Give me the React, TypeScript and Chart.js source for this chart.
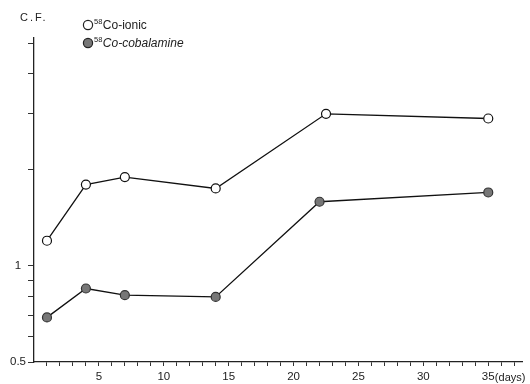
import React, { useEffect, useRef } from 'react';
import { Chart, registerables } from 'chart.js';

Chart.register(...registerables);

// Data
const ionicDays = [1, 4, 7, 14, 22.5, 35];
const ionicCF = [1.2, 1.8, 1.9, 1.75, 3.0, 2.9];
const cobalDays = [1, 4, 7, 14, 22, 35];
const cobalCF = [0.69, 0.85, 0.81, 0.8, 1.59, 1.7];

const xTickValues = [1, 2, 3, 4, 5, 6, 7, 8, 9, 10, 11, 12, 13, 14, 15, 16, 17, 18, 19, 20, 21, 22, 23, 24, 25, 26, 27, 28, 29, 30, 31, 32, 33, 34, 35, 36, 37];
const xTickLabels = [5, 10, 15, 20, 25, 30, 35];
const yTickValues = [0.5, 0.6, 0.7, 0.8, 0.9, 1, 2, 3, 4, 5];
const yTickLabels = [0.5, 1];

const FONT = '"Liberation Sans", Arial, sans-serif';
const INK = '#222';

const overlayPlugin = {
  id: 'overlay',
  afterDraw(chart: any) {
    const ctx = chart.ctx as CanvasRenderingContext2D;
    ctx.save();
    ctx.fillStyle = INK;
    ctx.textBaseline = 'middle';
    // y-axis title
    ctx.font = `11px ${FONT}`;
    (ctx as any).letterSpacing = '2px';
    ctx.textAlign = 'left';
    ctx.fillText('C.F.', 20, 18);
    (ctx as any).letterSpacing = '0px';

    // legend
    const items = [
      { y: 25, fill: '#ffffff', label: 'Co-ionic', italic: false },
      { y: 43, fill: '#777777', label: 'Co-cobalamine', italic: true },
    ];
    items.forEach((it) => {
      ctx.beginPath();
      ctx.arc(88, it.y, 4.6, 0, Math.PI * 2);
      ctx.fillStyle = it.fill;
      ctx.fill();
      ctx.lineWidth = 1.2;
      ctx.strokeStyle = '#222';
      ctx.stroke();
      ctx.fillStyle = INK;
      ctx.font = `7.5px ${FONT}`;
      ctx.fillText('58', 94, it.y - 3);
      const w = ctx.measureText('58').width;
      ctx.font = `${it.italic ? 'italic ' : ''}12px ${FONT}`;
      ctx.fillText(it.label, 94 + w + 0.5, it.y + 1);
    });

    // "(days)" after the 35 label
    const xs = chart.scales.x;
    ctx.font = `11px ${FONT}`;
    const w35 = ctx.measureText('35').width;
    ctx.textAlign = 'left';
    ctx.fillText('(days)', xs.getPixelForValue(35) + w35 / 2 + 0.5, 378);
    ctx.restore();
  },
};

export default function App() {
  const ref = useRef<HTMLCanvasElement | null>(null);

  useEffect(() => {
    if (!ref.current) return;
    const chart = new Chart(ref.current, {
      type: 'line',
      data: {
        datasets: [
          {
            label: '58Co-ionic',
            data: ionicDays.map((d, i) => ({ x: d, y: ionicCF[i] })),
            borderColor: '#111',
            borderWidth: 1.3,
            pointRadius: 4.5,
            pointBackgroundColor: '#ffffff',
            pointBorderColor: '#111',
            pointBorderWidth: 1.2,
            tension: 0,
          },
          {
            label: '58Co-cobalamine',
            data: cobalDays.map((d, i) => ({ x: d, y: cobalCF[i] })),
            borderColor: '#111',
            borderWidth: 1.3,
            pointRadius: 4.5,
            pointBackgroundColor: '#777777',
            pointBorderColor: '#333',
            pointBorderWidth: 1.2,
            tension: 0,
          },
        ],
      },
      options: {
        animation: false,
        responsive: false,
        devicePixelRatio: 1,
        layout: { padding: { left: 0, right: 8, top: 37.6, bottom: 0 } },
        plugins: {
          legend: { display: false },
          tooltip: { enabled: false },
        },
        scales: {
          x: {
            type: 'linear',
            min: 0,
            max: 37.6,
            afterBuildTicks: (scale: any) => {
              scale.ticks = xTickValues.map((v) => ({ value: v }));
            },
            afterFit: (scale: any) => {
              scale.height = 22;
            },
            grid: {
              display: true,
              drawOnChartArea: false,
              drawTicks: true,
              tickLength: 4,
              color: '#333',
              lineWidth: 1,
            },
            border: { display: true, color: '#222', width: 1.3 },
            ticks: {
              autoSkip: false,
              maxRotation: 0,
              padding: 4,
              color: INK,
              font: { family: FONT, size: 11.5 },
              callback: (v: any) => (xTickLabels.includes(Number(v)) ? String(v) : ''),
            },
          },
          y: {
            type: 'logarithmic',
            min: 0.5,
            max: 5.2,
            afterBuildTicks: (scale: any) => {
              scale.ticks = yTickValues.map((v) => ({ value: v }));
            },
            afterFit: (scale: any) => {
              scale.width = 34;
            },
            grid: {
              display: true,
              drawOnChartArea: false,
              drawTicks: true,
              tickLength: 6,
              color: '#333',
              lineWidth: 1,
            },
            border: { display: true, color: '#222', width: 1.3 },
            ticks: {
              autoSkip: false,
              crossAlign: 'center',
              padding: 2,
              color: INK,
              font: { family: FONT, size: 11.5 },
              callback: (v: any) => (yTickLabels.includes(Number(v)) ? String(v) : ''),
            },
          },
        },
      },
      plugins: [overlayPlugin],
    } as any);
    return () => chart.destroy();
  }, []);

  return (
    <div style={{ position: 'absolute', left: 0, top: 0, width: 530, height: 384, background: '#fff' }}>
      <canvas ref={ref} width={530} height={384} />
    </div>
  );
}
